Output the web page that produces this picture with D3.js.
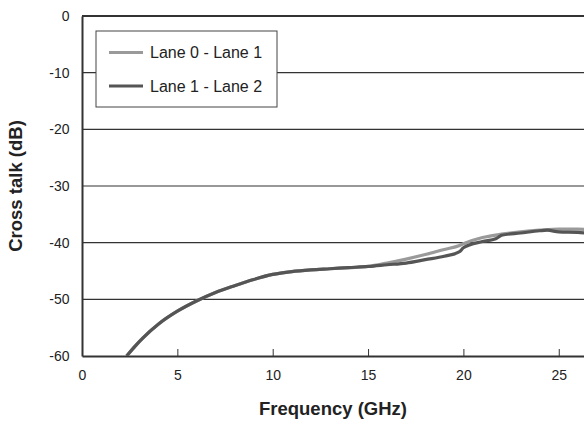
<!DOCTYPE html>
<html>
<head>
<meta charset="utf-8">
<script src="https://cdn.jsdelivr.net/npm/d3@7"></script>
<style>
  body { margin: 0; background: #fff; }
  svg { font-family: "Liberation Sans", Arial, sans-serif; }
</style>
</head>
<body>
<div id="chart"></div>
<script>
var seriesNames = ["Lane 0 - Lane 1", "Lane 1 - Lane 2"]
var seriesColors = ["#9a9a9a", "#555555"]

// frequency (GHz) / cross talk (dB)
var freqA = [2.34, 2.8, 3.2, 4, 5, 6, 7, 8, 9, 10, 11, 12, 13, 14, 15, 16, 17, 18, 19, 19.8, 20, 21, 21.8, 22, 23, 24, 25, 26, 26.4]
var lane01 = [-60, -58.2, -56.8, -54.4, -52.1, -50.3, -48.8, -47.6, -46.5, -45.6, -45.1, -44.8, -44.6, -44.4, -44.2, -43.6, -42.9, -42.1, -41.2, -40.5, -40.2, -39.1, -38.6, -38.5, -38.1, -37.8, -37.6, -37.6, -37.7]
var freqB = [2.34, 2.8, 3.2, 4, 5, 6, 7, 8, 9, 10, 11, 12, 13, 14, 15, 16, 17, 18, 19, 19.8, 20, 21, 21.7, 21.9, 22, 23, 24, 24.4, 25, 26, 26.4]
var lane12 = [-60, -58.2, -56.8, -54.4, -52.1, -50.3, -48.8, -47.6, -46.5, -45.6, -45.1, -44.8, -44.6, -44.4, -44.2, -43.9, -43.6, -43.0, -42.4, -41.6, -40.9, -39.8, -39.3, -38.9, -38.7, -38.3, -37.9, -37.8, -38.1, -38.2, -38.3]

var xTicks = [0, 5, 10, 15, 20, 25]
var yTicks = [0, -10, -20, -30, -40, -50, -60]

var width = 584, height = 424
var plotLeft = 82, plotTop = 16, plotRight = 584, plotBottom = 356

var svg = d3.select("#chart").append("svg")
  .attr("width", width)
  .attr("height", height)

var x = d3.scaleLinear().domain([0, (plotRight - plotLeft) / 19.07]).range([plotLeft, plotRight])
var y = d3.scaleLinear().domain([-60, 0]).range([plotBottom, plotTop])

// grid lines
svg.append("g").selectAll("line")
  .data(yTicks.filter(function (d) { return d != 0 && d != -60 }))
  .join("line")
    .attr("x1", plotLeft).attr("x2", plotRight)
    .attr("y1", function (d) { return y(d) }).attr("y2", function (d) { return y(d) })
    .attr("stroke", "#333").attr("stroke-width", 1.2)

// top frame
svg.append("line")
  .attr("x1", plotLeft).attr("x2", plotRight).attr("y1", plotTop).attr("y2", plotTop)
  .attr("stroke", "#333").attr("stroke-width", 2)

// y axis labels, no ticks; plain hyphen for the minus sign
var yAxis = svg.append("g")
  .attr("transform", "translate(" + plotLeft + ",0)")
  .call(d3.axisLeft(y).tickValues(yTicks).tickSize(0).tickPadding(12.5)
    .tickFormat(function (d) { return String(d) }))
yAxis.select(".domain").attr("stroke", "#333").attr("stroke-width", 2)
yAxis.selectAll("text").attr("font-size", 14).attr("fill", "#222")
  .attr("font-family", "Liberation Sans, Arial, sans-serif")

// x axis, ticks point inward
var xAxis = svg.append("g")
  .attr("transform", "translate(0," + plotBottom + ")")
  .call(d3.axisBottom(x).tickValues(xTicks).tickSizeInner(-7).tickSizeOuter(0).tickPadding(14))
xAxis.select(".domain").attr("stroke", "#333").attr("stroke-width", 2)
xAxis.selectAll(".tick line").attr("stroke", "#333").attr("stroke-width", 1)
xAxis.selectAll("text").attr("font-size", 14).attr("fill", "#222")
  .attr("font-family", "Liberation Sans, Arial, sans-serif")

// axis titles
svg.append("text")
  .attr("x", (plotLeft + plotRight) / 2).attr("y", 414.5)
  .attr("text-anchor", "middle")
  .attr("font-size", 18.5).attr("font-weight", "bold").attr("fill", "#222")
  .text("Frequency (GHz)")
svg.append("text")
  .attr("transform", "translate(22," + (plotTop + plotBottom) / 2 + ") rotate(-90)")
  .attr("text-anchor", "middle")
  .attr("font-size", 18.5).attr("font-weight", "bold").attr("fill", "#222")
  .text("Cross talk (dB)")

// curves
var line = d3.line()
  .x(function (d) { return x(d[0]) })
  .y(function (d) { return y(d[1]) })
  .curve(d3.curveMonotoneX)

svg.append("clipPath").attr("id", "clip")
  .append("rect").attr("x", plotLeft).attr("y", plotTop)
  .attr("width", plotRight - plotLeft).attr("height", plotBottom - plotTop)
var plot = svg.append("g").attr("clip-path", "url(#clip)")

plot.append("path")
  .datum(d3.zip(freqA, lane01))
  .attr("d", line)
  .attr("fill", "none").attr("stroke", seriesColors[0]).attr("stroke-width", 3.2)
plot.append("path")
  .datum(d3.zip(freqB, lane12))
  .attr("d", line)
  .attr("fill", "none").attr("stroke", seriesColors[1]).attr("stroke-width", 3.2)

// legend
var legend = svg.append("g")
legend.append("rect")
  .attr("x", 96).attr("y", 31).attr("width", 181).attr("height", 76)
  .attr("fill", "#fff").attr("stroke", "#444").attr("stroke-width", 1)
seriesNames.forEach(function (name, i) {
  var ly = 52.5 + i * 33.5
  legend.append("line")
    .attr("x1", 109).attr("x2", 143).attr("y1", ly).attr("y2", ly)
    .attr("stroke", seriesColors[i]).attr("stroke-width", 3)
  legend.append("text")
    .attr("x", 150).attr("y", ly + 5.5)
    .attr("font-size", 16).attr("fill", "#222")
    .text(name)
})
</script>
</body>
</html>
